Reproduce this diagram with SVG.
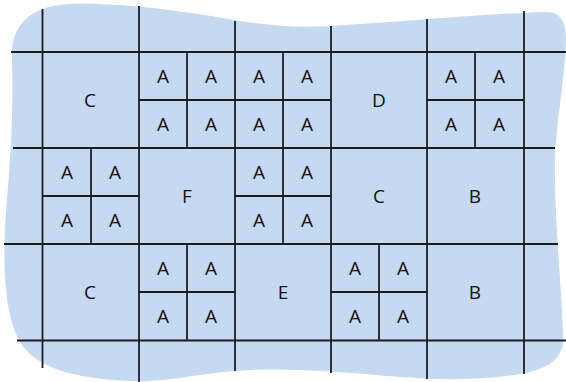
<svg xmlns="http://www.w3.org/2000/svg" width="566" height="382" viewBox="0 0 566 382">
<style>
.ln{stroke:#1c1c1c;stroke-width:1.8;fill:none}
.t{font-family:"Open Sans","Liberation Sans",sans-serif;font-size:19px;fill:#111;text-anchor:middle}
</style>
<rect width="566" height="382" fill="#fff"/>
<path id="blob" fill="#c5d9f0" d="M 12,60 C 10,30 25,6 70,4 C 120,2 190,12 240,21 C 270,26 300,28 331,26 C 400,22 480,14 545,12 C 560,12 566,20 566,40 C 565,80 556,120 555,160 C 554,220 562,290 563,335 C 564,355 555,365 530,372 C 490,381 440,380 400,377 C 350,373 300,368 250,370 C 200,372 170,383 130,381 C 80,379 40,370 22,345 C 5,320 3,270 5,230 C 7,190 14,140 12,60 Z"/>
<g id="grid" class="ln">
<line x1="42.5" y1="9" x2="42.5" y2="368"/>
<line x1="139" y1="6" x2="139" y2="382"/>
<line x1="235" y1="21" x2="235" y2="371"/>
<line x1="331" y1="26" x2="331" y2="373"/>
<line x1="427" y1="19" x2="427" y2="379"/>
<line x1="524" y1="11" x2="524" y2="374"/>
<line x1="11" y1="52" x2="566" y2="52"/>
<line x1="13" y1="148" x2="555" y2="148"/>
<line x1="4" y1="244" x2="558" y2="244"/>
<line x1="17" y1="340.5" x2="566" y2="340.5"/>
</g>
<g id="subgrid" class="ln">
<line x1="139" y1="100" x2="331" y2="100"/>
<line x1="187" y1="52" x2="187" y2="148"/>
<line x1="283" y1="52" x2="283" y2="148"/>
<line x1="427" y1="100" x2="524" y2="100"/>
<line x1="475" y1="52" x2="475" y2="148"/>
<line x1="42.5" y1="196" x2="139" y2="196"/>
<line x1="91" y1="148" x2="91" y2="244"/>
<line x1="235" y1="196" x2="331" y2="196"/>
<line x1="283" y1="148" x2="283" y2="244"/>
<line x1="139" y1="292" x2="235" y2="292"/>
<line x1="187" y1="244" x2="187" y2="340"/>
<line x1="331" y1="292" x2="427" y2="292"/>
<line x1="379" y1="244" x2="379" y2="340"/>
</g>
<g id="labels" class="t">
<text x="90" y="107">C</text>
<text x="379" y="107">D</text>
<text x="187" y="203">F</text>
<text x="379" y="203">C</text>
<text x="475" y="203">B</text>
<text x="90" y="299">C</text>
<text x="283" y="299">E</text>
<text x="475" y="299">B</text>
<text x="163" y="83">A</text><text x="211" y="83">A</text><text x="259" y="83">A</text><text x="307" y="83">A</text>
<text x="163" y="131">A</text><text x="211" y="131">A</text><text x="259" y="131">A</text><text x="307" y="131">A</text>
<text x="451" y="83">A</text><text x="499" y="83">A</text>
<text x="451" y="131">A</text><text x="499" y="131">A</text>
<text x="67" y="179">A</text><text x="115" y="179">A</text>
<text x="67" y="227">A</text><text x="115" y="227">A</text>
<text x="259" y="179">A</text><text x="307" y="179">A</text>
<text x="259" y="227">A</text><text x="307" y="227">A</text>
<text x="163" y="275">A</text><text x="211" y="275">A</text>
<text x="163" y="323">A</text><text x="211" y="323">A</text>
<text x="355" y="275">A</text><text x="403" y="275">A</text>
<text x="355" y="323">A</text><text x="403" y="323">A</text>
</g>
</svg>
